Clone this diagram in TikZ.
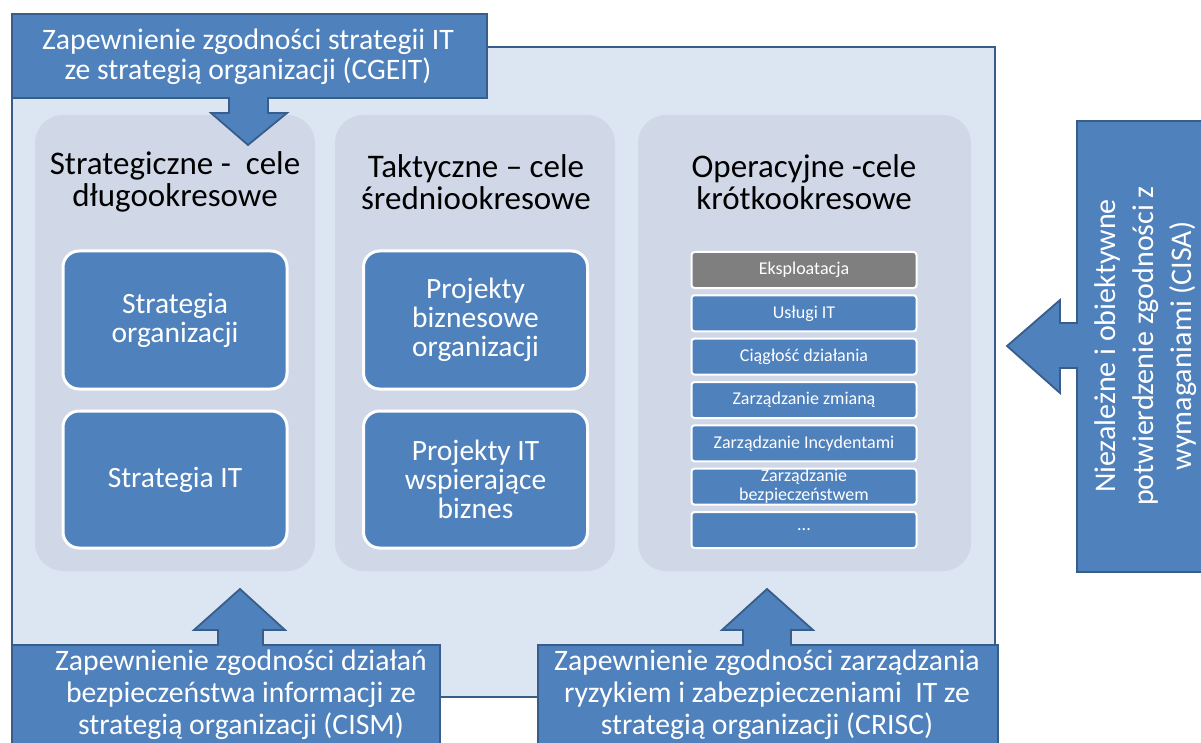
\documentclass[tikz,border=0pt]{standalone}
\usepackage{fontspec}
\setmainfont{Carlito}
\definecolor{mainfill}{HTML}{DCE6F2}
\definecolor{panelfill}{HTML}{D0D8E7}
\definecolor{accentblue}{HTML}{4F81BD}
\definecolor{darkblue}{HTML}{385D8A}
\definecolor{graybox}{HTML}{7F7F7F}
\begin{document}
\begin{tikzpicture}[x=1pt,y=-1pt,
  blockshape/.style={fill=accentblue,draw=darkblue,line width=1.8pt,line join=miter},
  wtext/.style={text=white,align=center,inner sep=0pt},
  paneltitle/.style={text=black,align=center,inner sep=0pt,font=\fontsize{33}{32}\selectfont},
  innerbox/.style={fill=accentblue,draw=white,line width=3pt,rounded corners=16pt,
     minimum width=224pt,text=white,align=center,font=\fontsize{29.5}{29}\selectfont},
  listbox/.style={fill=accentblue,draw=white,line width=2pt,rounded corners=3pt,
     minimum width=225pt,minimum height=36pt,inner sep=0pt,text=white,align=center,
     font=\fontsize{18}{19}\selectfont},
  bigtext/.style={wtext,font=\fontsize{29.7}{30}\selectfont},
  bottomtext/.style={wtext,font=\fontsize{29.7}{32}\selectfont}]
\useasboundingbox (0,0) rectangle (1201,743);
\clip (0,0) rectangle (1201,743);
% main frame
\draw[fill=mainfill,draw=darkblue,line width=2pt] (12,47) rectangle (995,697);
% panels
\fill[panelfill,rounded corners=28pt] (35,115) rectangle (315,571);
\fill[panelfill,rounded corners=28pt] (335,115) rectangle (615,571);
\fill[panelfill,rounded corners=28pt] (638,115) rectangle (971,571);
% panel titles
\node[paneltitle] (t1) at (175,182) {Strategiczne -\ \ cele\\długookresowe};
\node[paneltitle] (t2) at (476,182) {Taktyczne – cele\\średniookresowe};
\node[paneltitle] (t3) at (804,182) {Operacyjne -cele\\krótkookresowe};
% inner boxes
\node[innerbox,minimum height=138pt] (so) at (175,320) {Strategia\\organizacji};
\node[innerbox,minimum height=137pt] (sit) at (175,479.5) {Strategia IT};
\node[innerbox,minimum height=138pt] (pb) at (475.5,320) {Projekty\\biznesowe\\organizacji};
\node[innerbox,minimum height=137pt] (pit) at (475.5,479.5) {Projekty IT\\wspierające\\biznes};
% operational list
\node[listbox,fill=graybox] (l1) at (804,270) {Eksploatacja};
\node[listbox] (l2) at (804,313.3) {Usługi IT};
\node[listbox] (l3) at (804,356.6) {Ciągłość działania};
\node[listbox] (l4) at (804,400) {Zarządzanie zmianą};
\node[listbox] (l5) at (804,443.3) {Zarządzanie Incydentami};
\node[listbox] (l6) at (804,486.6) {Zarządzanie\\bezpieczeństwem};
\node[listbox] (l7) at (804,530) {...};
% top block arrow
\draw[blockshape] (12,14) -- (487,14) -- (487,98) -- (268,98) -- (268,113) -- (287,113)
  -- (248,145) -- (211,113) -- (229,113) -- (229,98) -- (12,98) -- cycle;
\node[bigtext] (cgeit) at (248,57) {Zapewnienie zgodności strategii IT\\ze strategią organizacji (CGEIT)};
% bottom-left block arrow
\draw[blockshape] (12,645) -- (218,645) -- (218,630) -- (194,630) -- (240,589) -- (285,630)
  -- (263,630) -- (263,645) -- (440,645) -- (440,760) -- (12,760) -- cycle;
\node[bottomtext] (cism) at (241,695) {Zapewnienie zgodności działań\\bezpieczeństwa informacji ze\\strategią organizacji (CISM)};
% bottom-right block arrow
\draw[blockshape] (538,645) -- (743,645) -- (743,630) -- (722,630) -- (767,589) -- (813,630)
  -- (791,630) -- (791,645) -- (998,645) -- (998,760) -- (538,760) -- cycle;
\node[bottomtext] (crisc) at (767,695) {Zapewnienie zgodności zarządzania\\ryzykiem i zabezpieczeniami\ \ IT ze\\strategią organizacji (CRISC)};
% right block arrow
\draw[blockshape] (1077,121) -- (1215,121) -- (1215,572) -- (1077,572) -- (1077,368) -- (1060,368)
  -- (1060,393) -- (1007,346) -- (1060,300) -- (1060,323) -- (1077,323) -- cycle;
\node[wtext,rotate=90,font=\fontsize{30}{38}\selectfont] (cisa) at (1146,346) {Niezależne i obiektywne\\potwierdzenie zgodności z\\wymaganiami (CISA)};
\end{tikzpicture}
\end{document}
